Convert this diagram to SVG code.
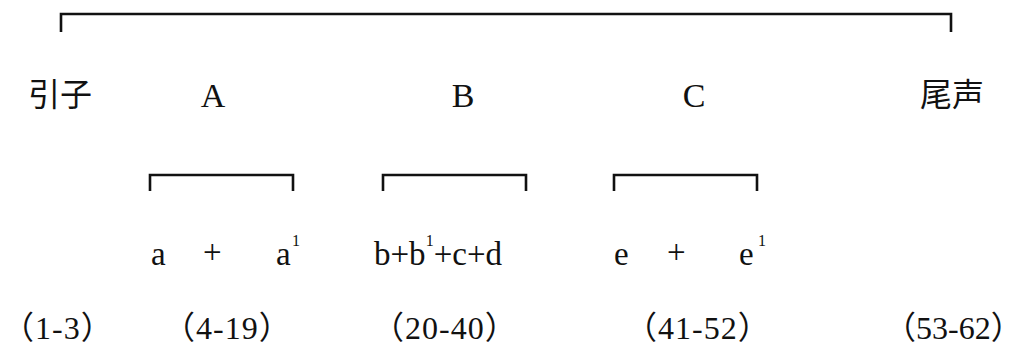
<svg xmlns="http://www.w3.org/2000/svg" width="1027" height="347" viewBox="0 0 1027 347">
<style>
.br{fill:none;stroke:#111;stroke-width:2.6}
.t{font-family:"Liberation Serif","Noto Sans CJK SC",serif;fill:#111}
.h{font-size:34px}
.z{font-size:32px}
.m{font-size:33px}
.s{font-size:16px}
.b{font-size:32px;letter-spacing:1px}
</style>
<rect width="1027" height="347" fill="#fff"/>
<g id="connectors">
<path class="br" d="M61,32 V14 H951 V32"/>
<path class="br" d="M150,191 V175 H293 V191"/>
<path class="br" d="M383,191 V175 H526 V191"/>
<path class="br" d="M614,191 V175 H757 V191"/>
</g>
<g id="intro"><text class="t z" x="28" y="106">引子</text><text class="t b" x="2" y="339">（1-3）</text></g>
<g id="A"><text class="t h" x="213" y="107" text-anchor="middle">A</text>
<text class="t m" x="151" y="265">a</text><text class="t m" x="203" y="263">+</text><text class="t m" x="276" y="265">a</text><text class="t s" x="292" y="246">1</text>
<text class="t b" x="163" y="339">（4-19）</text></g>
<g id="B"><text class="t h" x="463" y="107" text-anchor="middle">B</text>
<text class="t m" x="374" y="265">b+b<tspan class="s" dy="-19">1</tspan><tspan dy="19">+c+d</tspan></text>
<text class="t b" x="372" y="339">（20-40）</text></g>
<g id="C"><text class="t h" x="694" y="107" text-anchor="middle">C</text>
<text class="t m" x="614" y="265">e</text><text class="t m" x="667" y="263">+</text><text class="t m" x="739" y="265">e</text><text class="t s" x="758" y="246">1</text>
<text class="t b" x="625" y="339">（41-52）</text></g>
<g id="coda"><text class="t z" x="920" y="106">尾声</text><text class="t b" x="884" y="339" style="letter-spacing:0">（53-62）</text></g>
</svg>
